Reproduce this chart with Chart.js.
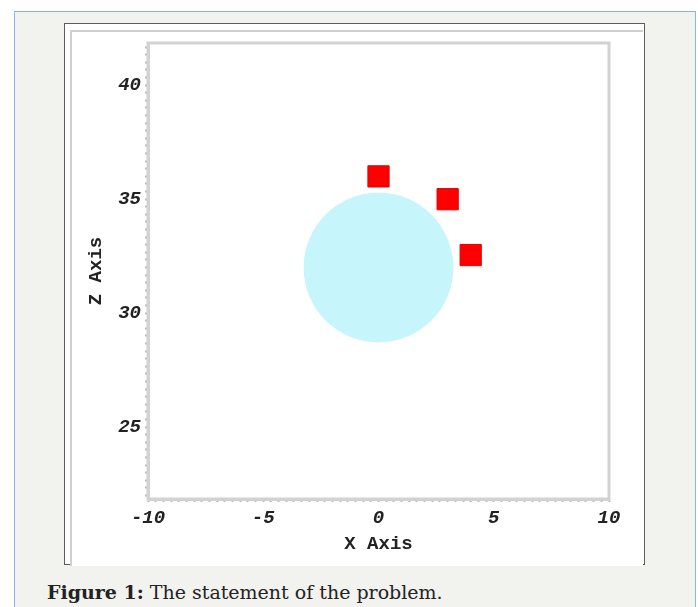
<!DOCTYPE html>
<html>
<head>
<meta charset="utf-8">
<script src="https://cdn.jsdelivr.net/npm/chart.js@4"></script>
<style>
body{margin:0;background:#fff;width:698px;height:607px;overflow:hidden;position:relative;}
#page{position:absolute;left:14px;top:11px;width:680px;height:620px;background:#f2f2ee;border:1px solid #8db2ea;}
#frame{position:absolute;left:64px;top:23px;width:579px;height:540px;background:#fff;border:1px solid #5c5c5c;}
#inner{position:absolute;left:70px;top:30px;width:571px;height:534px;border-left:2px solid #cfcfcf;border-top:2px solid #cfcfcf;background:#fff;}
#wrap{position:absolute;left:72px;top:27px;width:570px;height:533px;}
#cap{position:absolute;left:47px;top:581px;font-family:"DejaVu Serif",serif;font-size:19px;color:#222;white-space:nowrap;}
</style>
</head>
<body>
<div id="page"></div>
<div id="frame"></div>
<div id="inner"></div>
<div id="wrap"><canvas id="c" width="568" height="533"></canvas></div>
<div id="cap"><b>Figure 1:</b> The statement of the problem.</div>
<script>
// red markers (x, z)
const markX = [0, 3, 4];
const markZ = [36, 35, 32.55];
// cylinder cross-section: centre and radius in axis units
const discX = [0];
const discZ = [32];
const discR = 3.25;

const xRange = [-10, 10];
const zRange = [21.85, 41.85];
const majorTicks = [-10, -5, 0, 5, 10, 25, 30, 35, 40];
const minorPerUnit = 3;

const tickFont = {family:'Liberation Mono', size:19, weight:'bold', style:'italic'};
const titleFont = {family:'Liberation Mono', size:19, weight:'bold'};

function label(v){
  const r = Math.round(v);
  return (Math.abs(v - r) < 1e-6 && majorTicks.includes(r)) ? String(r) : '';
}
// minor ticks every 1/3 unit inside the range
function minorTicks(scale){
  const out = [];
  for(let k = Math.ceil(scale.min*minorPerUnit - 1e-9); k <= Math.floor(scale.max*minorPerUnit + 1e-9); k++)
    out.push({value:k/minorPerUnit});
  scale.ticks = out;
}

const frameBox = {
  id:'frameBox',
  beforeDatasetsDraw(chart){
    const a = chart.chartArea, ctx = chart.ctx;
    ctx.save();
    ctx.strokeStyle = '#d2d2d2'; ctx.lineWidth = 3;
    ctx.strokeRect(a.left, a.top, a.right - a.left, a.bottom - a.top);
    ctx.restore();
  }
};

new Chart(document.getElementById('c'), {
  type:'scatter',
  data:{datasets:[
    {label:'points', data:markX.map((x,i)=>({x, y:markZ[i]})),
     pointStyle:'rect', pointRadius:15, pointHoverRadius:15,
     backgroundColor:'#ff0000', borderColor:'#e00000', borderWidth:1},
    {label:'disc', data:discX.map((x,i)=>({x, y:discZ[i]})),
     pointStyle:'circle', borderWidth:0, backgroundColor:'#c6f6fb',
     pointRadius:ctx=>{const s = ctx.chart.scales.x; return s.getPixelForValue(discR) - s.getPixelForValue(0);},
     pointHoverRadius:ctx=>{const s = ctx.chart.scales.x; return s.getPixelForValue(discR) - s.getPixelForValue(0);}}
  ]},
  options:{
    responsive:false, animation:false,
    layout:{padding:{top:10, right:31, left:0, bottom:0}},
    plugins:{legend:{display:false}, tooltip:{enabled:false}},
    scales:{
      x:{type:'linear', min:xRange[0], max:xRange[1],
         afterBuildTicks:minorTicks,
         afterFit:s=>{s.height = 61;},
         grid:{drawOnChartArea:false, drawTicks:true, tickLength:3, color:'#b8b8b8', tickWidth:2},
         border:{color:'#d2d2d2', width:3},
         ticks:{autoSkip:false, maxRotation:0, padding:5, color:'#222', font:tickFont, callback:label},
         title:{display:true, text:'X Axis', color:'#222', font:titleFont, padding:{top:0, bottom:4}}},
      y:{type:'linear', min:zRange[0], max:zRange[1],
         afterBuildTicks:minorTicks,
         afterFit:s=>{s.width = 76;},
         grid:{drawOnChartArea:false, drawTicks:true, tickLength:3, color:'#b8b8b8', tickWidth:2},
         border:{color:'#d2d2d2', width:3},
         ticks:{autoSkip:false, padding:4, color:'#222', font:tickFont, callback:label},
         title:{display:true, text:'Z Axis', color:'#222', font:titleFont, padding:{top:13, bottom:0}}}
    }
  },
  plugins:[frameBox]
});
</script>
</body>
</html>
